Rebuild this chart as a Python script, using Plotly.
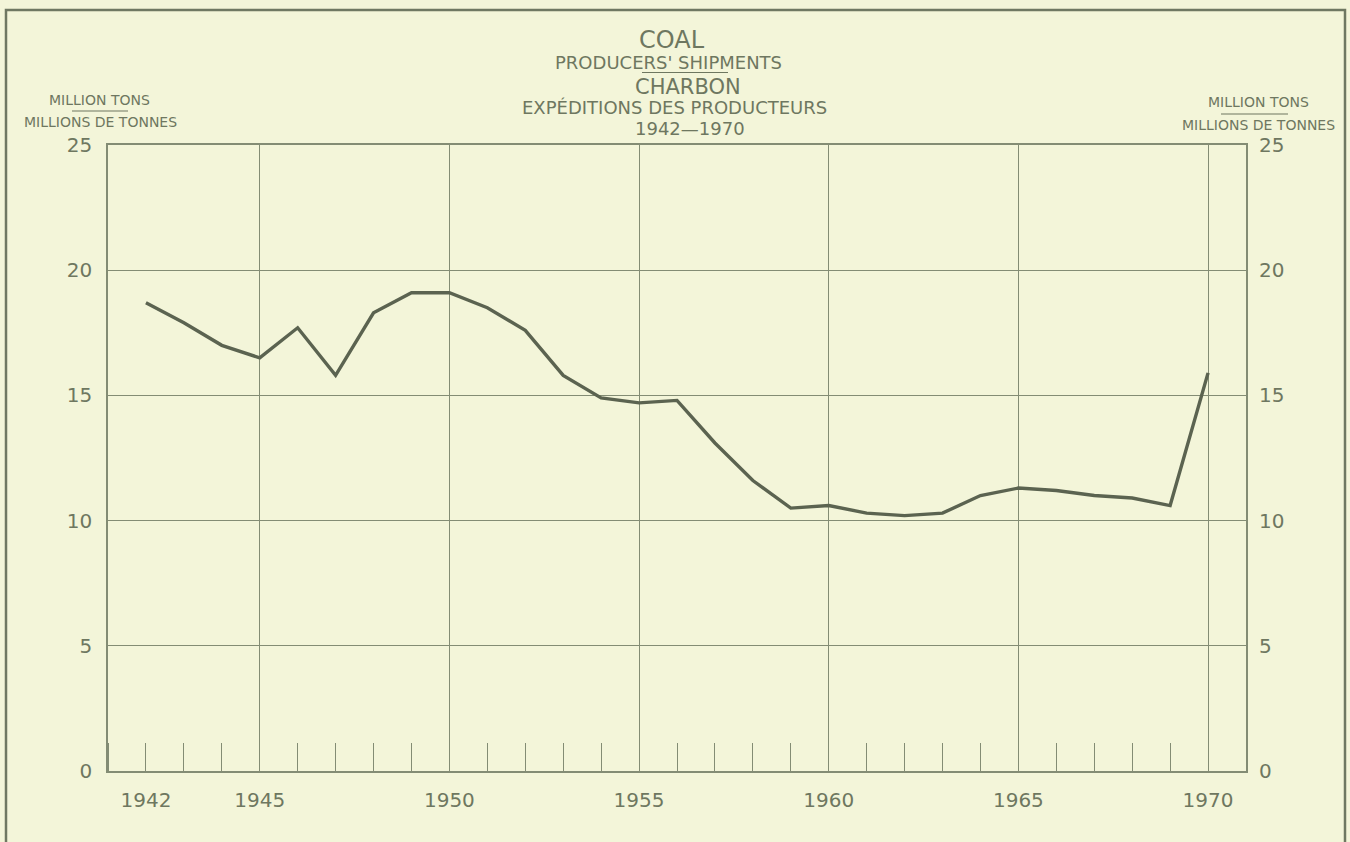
import plotly.graph_objects as go

# ---- data ----
years = list(range(1942, 1971))
shipments = [18.7, 17.9, 17.0, 16.5, 17.7, 15.8, 18.3, 19.1, 19.1, 18.5,
             17.6, 15.8, 14.9, 14.7, 14.8, 13.1, 11.6, 10.5, 10.6, 10.3,
             10.2, 10.3, 11.0, 11.3, 11.2, 11.0, 10.9, 10.6, 15.9]
x_label_years = [1942, 1945, 1950, 1955, 1960, 1965, 1970]
x_grid_years = [1945, 1950, 1955, 1960, 1965, 1970]
y_ticks = [0, 5, 10, 15, 20, 25]

# ---- style ----
W, H = 1350, 842
L, R, T, B = 108, 1246, 145, 771
BG = "#f3f5d9"
LINE = "#838c74"
TEXT = "#6e7760"
DATA = "#5b6350"
FONT = "DejaVu Sans"


def px(x):
    return (x - L) / (R - L)


def py(y):
    return (B - y) / (B - T)


fig = go.Figure()
# helper (invisible) trace on the main x/y axes
fig.add_trace(go.Scatter(x=years, y=shipments, mode="lines", line=dict(width=0),
                         opacity=0, hoverinfo="skip", showlegend=False,
                         xaxis="x", yaxis="y"))
# the data line
fig.add_trace(go.Scatter(x=years, y=shipments, mode="lines",
                         line=dict(color=DATA, width=3.4),
                         showlegend=False, xaxis="x2", yaxis="y2"))

axis_font = dict(family=FONT, size=20, color=TEXT)

fig.update_layout(
    width=W, height=H,
    paper_bgcolor=BG, plot_bgcolor=BG,
    margin=dict(l=L, r=W - R, t=T, b=H - B),
    showlegend=False,
    xaxis=dict(
        range=[1941, 1971], tickmode="array", tickvals=x_label_years,
        ticks="", showgrid=False, zeroline=False,
        showline=True, mirror=True, linecolor=LINE, linewidth=2,
        tickfont=axis_font, ticklabelstandoff=10,
        minor=dict(dtick=1, tick0=1941, ticks="inside", ticklen=28,
                   tickcolor=LINE, tickwidth=1.2, showgrid=False),
    ),
    yaxis=dict(
        range=[0, 25], tickmode="array", tickvals=y_ticks,
        ticks="", showgrid=True, gridcolor=LINE, gridwidth=1.2,
        zeroline=False, showline=True, mirror=True, linecolor=LINE,
        linewidth=1.5, tickfont=axis_font, ticklabelstandoff=10,
    ),
    xaxis2=dict(
        overlaying="x", matches="x", anchor="y2", range=[1941, 1971],
        tickmode="array", tickvals=x_grid_years, ticks="",
        showticklabels=False, showgrid=True, gridcolor=LINE, gridwidth=1.2,
        zeroline=False, showline=False,
    ),
    yaxis2=dict(
        overlaying="y", side="right", anchor="x2", range=[0, 25],
        tickmode="array", tickvals=y_ticks, ticks="", showgrid=False,
        zeroline=False, showline=False, tickfont=axis_font,
        ticklabelstandoff=12,
    ),
)

# ---- titles and axis captions ----
def note(text, x, y, size, xanchor="center"):
    fig.add_annotation(text=text, x=px(x), y=py(y), xref="paper", yref="paper",
                       showarrow=False, xanchor=xanchor, yanchor="middle",
                       borderpad=0,
                       font=dict(family=FONT, size=size, color=TEXT))

note("COAL", 672, 40, 24)
note("PRODUCERS' SHIPMENTS", 668, 62, 18)
note("CHARBON", 688, 87, 21)
note("EXPÉDITIONS DES PRODUCTEURS", 674, 108, 18)
note("1942—1970", 690, 129, 18)

note("MILLION TONS", 99, 100, 14)
note("MILLIONS DE TONNES", 100, 122, 14)
note("MILLION TONS", 1258, 102, 14)
note("MILLIONS DE TONNES", 1258, 125, 14)

# separators
for x0, x1, y in [(642, 728, 72.5), (72, 128, 111), (1221, 1288, 114)]:
    fig.add_shape(type="line", xref="paper", yref="paper",
                  x0=px(x0), x1=px(x1), y0=py(y), y1=py(y),
                  line=dict(color=TEXT, width=1.2))

# outer frame of the sheet
fig.add_shape(type="rect", xref="paper", yref="paper",
              x0=px(6), x1=px(1345), y0=py(860), y1=py(10),
              line=dict(color="#6f7862", width=2.5), layer="below")

fig.write_html(
    "out.html",
    config={"displayModeBar": False},
    post_script="document.body.style.margin='0';"
                "document.body.style.background='#f3f5d9';",
)
